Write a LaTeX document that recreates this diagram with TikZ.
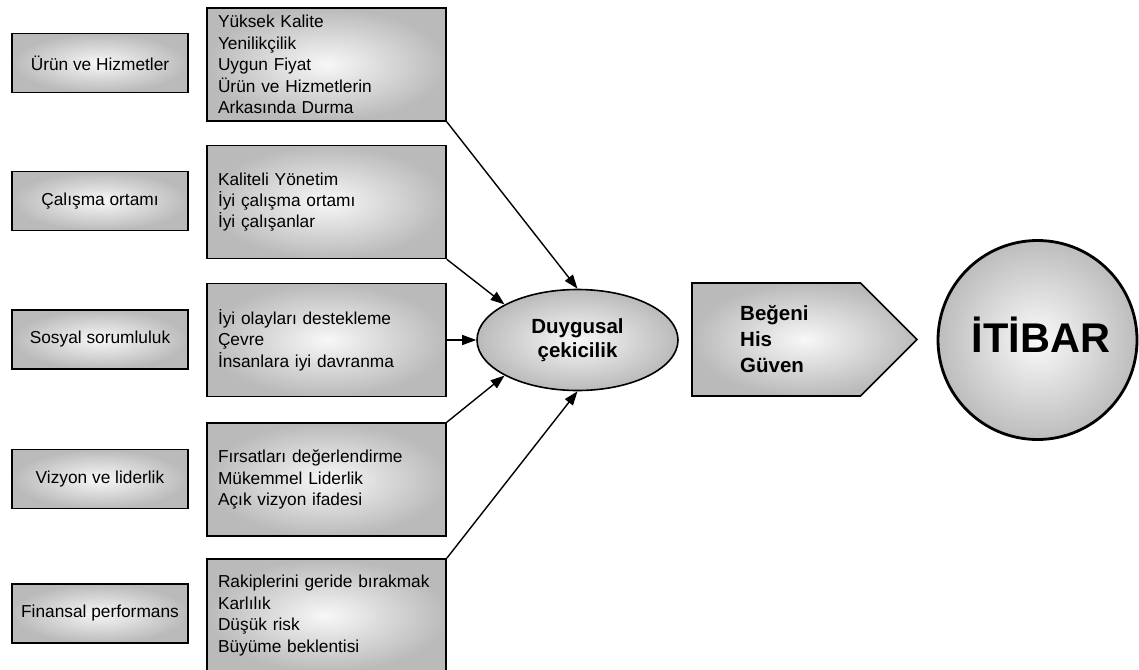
\documentclass[tikz,border=0pt]{standalone}
\usepackage{fontspec}
\setmainfont{Liberation Sans}
\usetikzlibrary{arrows.meta,shapes.geometric}
\begin{document}
\begin{tikzpicture}[x=1pt,y=-1pt,
  shadefill/.style={inner color=black!3, outer color=black!27},
  lbox/.style={draw, line width=1.6pt, shadefill, minimum width=176pt, minimum height=59pt, inner sep=0pt,
    font=\fontsize{17.3pt}{21.4pt}\selectfont},
  rbox/.style={draw, line width=1.6pt, shadefill, text width=217pt, inner xsep=11pt, inner ysep=0pt,
    minimum height=113pt, align=left, font=\fontsize{17.3pt}{21.4pt}\selectfont},
  conn/.style={-{Triangle[length=14pt,width=10pt]}, line width=1.4pt},
  boldtxt/.style={font=\bfseries\fontsize{20.5pt}{23.5pt}\selectfont}
]
\useasboundingbox (0,0) rectangle (1139,669);

% left boxes
\node[lbox] (l1) at (100,63) {Ürün ve Hizmetler};
\node[lbox] (l2) at (100,201) {Çalışma ortamı};
\node[lbox] (l3) at (100,339.5) {Sosyal sorumluluk};
\node[lbox] (l4) at (100,479) {Vizyon ve liderlik};
\node[lbox] (l5) at (100,613.5) {Finansal performans};

% right boxes
\node[rbox] (r1) at (326.5,64.5) {Yüksek Kalite\\Yenilikçilik\\Uygun Fiyat\\Ürün ve Hizmetlerin\\Arkasında Durma};
\node[rbox] (r2) at (326.5,202) {Kaliteli Yönetim\\İyi çalışma ortamı\\İyi çalışanlar};
\node[rbox] (r3) at (326.5,340) {İyi olayları destekleme\\Çevre\\İnsanlara iyi davranma};
\node[rbox] (r4) at (326.5,479.5) {Fırsatları değerlendirme\\Mükemmel Liderlik\\Açık vizyon ifadesi};
\node[rbox] (r5) at (326.5,615.5) {Rakiplerini geride bırakmak\\Karlılık\\Düşük risk\\Büyüme beklentisi};

% ellipse
\node[ellipse, draw, line width=1.6pt, shadefill, minimum width=201pt, minimum height=101pt, inner sep=0pt,
  boldtxt, align=center] (duy) at (577.5,340) {Duygusal\\çekicilik};

% connectors
\draw[conn] (r1.south east) -- (duy.north);
\draw[conn] (r2.south east) -- (duy.154);
\draw[conn] (r3.east) -- (duy.west);
\draw[conn] (r4.north east) -- (duy.206);
\draw[conn] (r5.north east) -- (duy.south);

% pentagon arrow
\path[draw, line width=1.6pt, shadefill] (692,283) -- (860.5,283) -- (917,339.5) -- (860.5,396) -- (692,396) -- cycle;
\node[font=\bfseries\fontsize{20.5pt}{26pt}\selectfont, align=left, anchor=west, inner sep=0pt] (hg) at (740,339) {Beğeni\\His\\Güven};

% circle
\node[circle, draw, line width=2.8pt, inner color=black!2, outer color=black!26, minimum size=199pt, inner sep=0pt] (itb) at (1037.5,340) {};
\node[font=\bfseries\fontsize{41.5pt}{44pt}\selectfont, anchor=base, inner sep=0pt] (itbt) at (1041,352) {İTİBAR};
\end{tikzpicture}
\end{document}
